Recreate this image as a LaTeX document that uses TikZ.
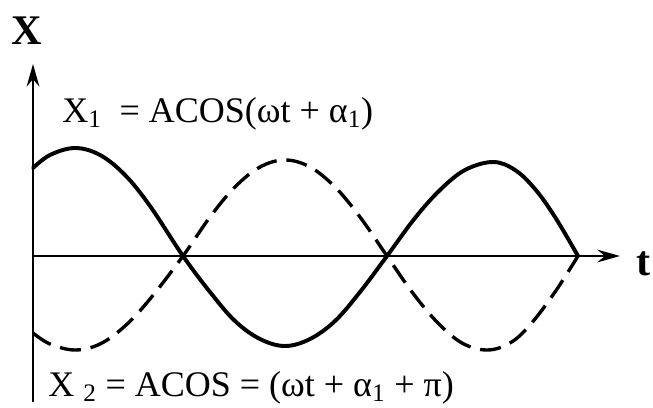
\documentclass[tikz,border=0pt]{standalone}
\usepackage{fontspec}
\setmainfont{Liberation Serif}
\usepackage{tikz}
\usetikzlibrary{arrows.meta,positioning}

\begin{document}
\begin{tikzpicture}[
  x=0.025cm, y=-0.025cm,
  axis/.style={line width=2pt, -{Stealth[length=16pt,width=9pt]}},
  wave/.style={line width=2.8pt, line cap=round},
  wavedash/.style={line width=2.4pt, dash pattern=on 15pt off 7pt},
  formula/.style={font=\fontsize{25.6}{30}\selectfont, anchor=base west, inner sep=0pt},
  axislabel/.style={font=\fontsize{30}{34}\selectfont\bfseries, inner sep=0pt}
]
\useasboundingbox (0,0) rectangle (653,408);
% Axes
\coordinate (Xbot) at (33,402);
\coordinate (Xtop) at (33,64);
\coordinate (O)    at (33,256);
\coordinate (Tend) at (620,256);
\draw[axis] (Xbot) -- (Xtop);
\draw[axis] (O) -- (Tend);
\node[axislabel] (xlab) at (27,31) {X};
\node[axislabel] (tlab) at (644,264) {t};
% X1, solid
\draw[wave] plot[smooth, tension=0.6] coordinates {
  (33,168) (50,155) (75,148) (100,155) (125,175) (150,206) (183,256)
  (210,292) (235,321) (260,339) (285,346) (310,339) (335,321) (360,292) (387,256)
  (415,218) (440,190) (465,170) (493,162) (515,170) (535,189) (555,217) (578,256)};
% X2, dashed
\draw[wavedash] plot[smooth, tension=0.6] coordinates {
  (33,333) (50,344) (75,350) (100,344) (125,326) (150,299) (183,256)
  (210,217) (235,187) (260,167) (285,160) (310,167) (335,187) (360,217) (387,256)
  (412,292) (437,322) (462,343) (487,350) (510,343) (530,325) (555,292) (578,256)};
% Formulas
\node[formula] (eqone) at (62,122) {X\textsubscript{1} \ = ACOS(ωt + α\textsubscript{1})};
\node[formula] (eqtwo) at (48,396) {X \textsubscript{2} = ACOS = (ωt + α\textsubscript{1} + π)};
\end{tikzpicture}
\end{document}
